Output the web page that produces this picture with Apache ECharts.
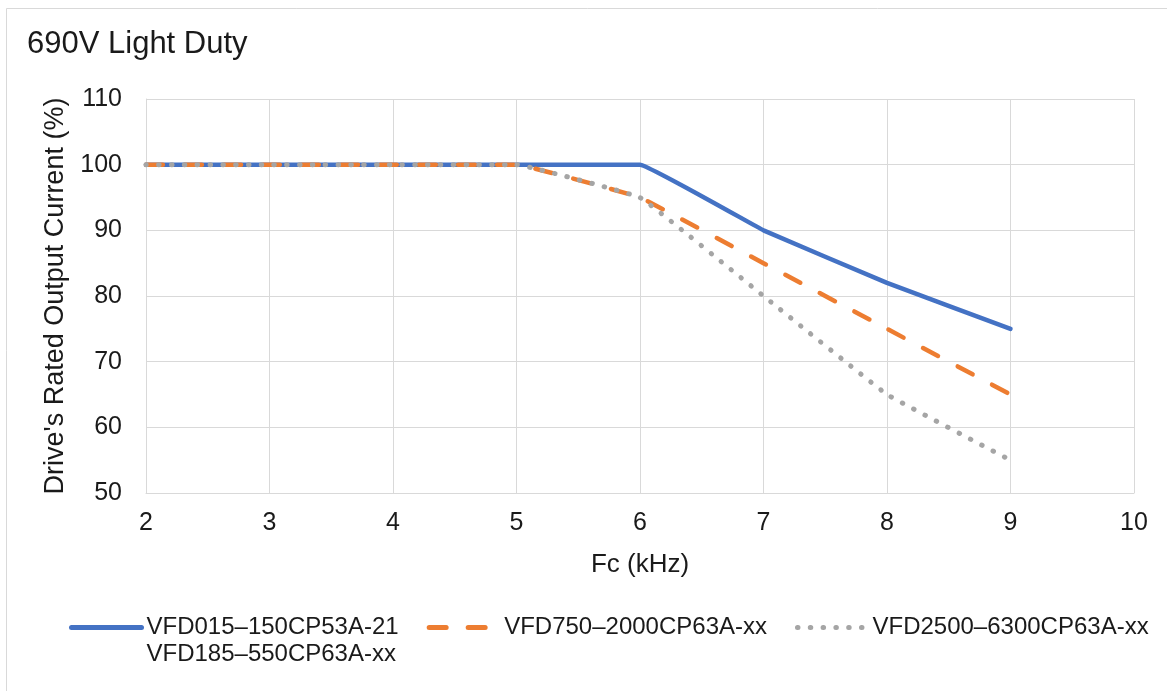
<!DOCTYPE html>
<html>
<head>
<meta charset="utf-8">
<script src="https://cdn.jsdelivr.net/npm/echarts@6/dist/echarts.min.js"></script>
<style>
html,body{margin:0;padding:0;background:#fff;}
#chart{width:1167px;height:691px;}
</style>
</head>
<body>
<div id="chart"></div>
<script>
const titleText = '690V Light Duty';
const xName = 'Fc (kHz)';
const yName = "Drive's Rated Output Current (%)";
const fc = [2, 3, 4, 5, 6, 7, 8, 9];
const seriesNames = [
  'VFD015–150CP53A-21\nVFD185–550CP63A-xx',
  'VFD750–2000CP63A-xx',
  'VFD2500–6300CP63A-xx'
];
const blueVals = [100, 100, 100, 100, 100, 90, 82, 75];
const orangeVals = [100, 100, 100, 100, 95, 85, 75, 65];
const grayVals = [100, 100, 100, 100, 95, 80, 65, 55];

const font = 'Arial, "Liberation Sans", sans-serif';
const txt = '#1a1a1a';
const gridColor = '#d9d9d9';

function pairs(vals) { return fc.map((x, i) => [x, vals[i]]); }

const chart = echarts.init(document.getElementById('chart'), null, {renderer: 'canvas'});
chart.setOption({
  animation: false,
  backgroundColor: '#fff',
  graphic: [{
    type: 'rect', silent: true, z: -10,
    shape: {x: 6.5, y: 8.5, width: 1300, height: 800},
    style: {fill: 'none', stroke: gridColor, lineWidth: 1}
  }],
  title: {
    text: titleText, left: 27, top: 29, padding: 0,
    textStyle: {fontFamily: font, fontSize: 31, fontWeight: 'normal', color: txt}
  },
  grid: {left: 146, right: 33, top: 99, bottom: 198, containLabel: false},
  xAxis: {
    type: 'value', min: 2, max: 10, interval: 1,
    name: xName, nameLocation: 'middle', nameGap: 59,
    nameTextStyle: {fontFamily: font, fontSize: 26, color: txt},
    axisLine: {show: true, lineStyle: {color: gridColor, width: 1}},
    axisTick: {show: false},
    axisLabel: {fontFamily: font, fontSize: 25, color: txt, margin: 18},
    splitLine: {show: true, lineStyle: {color: gridColor, width: 1}}
  },
  yAxis: {
    type: 'value', min: 50, max: 110, interval: 10,
    name: yName, nameLocation: 'middle', nameGap: 76, nameRotate: 90,
    nameTextStyle: {fontFamily: font, fontSize: 27, color: txt},
    axisLine: {show: true, lineStyle: {color: gridColor, width: 1}},
    axisTick: {show: false},
    axisLabel: {fontFamily: font, fontSize: 25, color: txt, margin: 24},
    splitLine: {show: true, lineStyle: {color: gridColor, width: 1}}
  },
  legend: {
    left: 69, top: 587, padding: 0, itemGap: 28,
    itemWidth: 70, itemHeight: 6,
    itemStyle: {opacity: 0},
    lineStyle: {width: 5},
    textStyle: {fontFamily: font, fontSize: 24, color: txt, lineHeight: 27},
    formatter: function (name) {
      return name === seriesNames[0] ? '\u00a0\n' + name : name;
    },
    data: seriesNames
  },
  series: [
    {
      name: seriesNames[0], type: 'line', data: pairs(blueVals),
      symbol: 'none', smooth: 0.06, z: 2,
      lineStyle: {color: '#4472c4', width: 4.5, cap: 'round', join: 'round'},
      itemStyle: {color: '#4472c4'}
    },
    {
      name: seriesNames[1], type: 'line', data: pairs(orangeVals),
      symbol: 'none', smooth: 0.06, z: 3,
      lineStyle: {color: '#ed7d31', width: 4.5, type: [17, 22], cap: 'round', join: 'round'},
      itemStyle: {color: '#ed7d31'}
    },
    {
      name: seriesNames[2], type: 'line', data: pairs(grayVals),
      symbol: 'none', smooth: 0.06, z: 4,
      lineStyle: {color: '#a5a5a5', width: 5, type: [0.5, 12.3], cap: 'round', join: 'round'},
      itemStyle: {color: '#a5a5a5'}
    }
  ]
});
</script>
</body>
</html>
